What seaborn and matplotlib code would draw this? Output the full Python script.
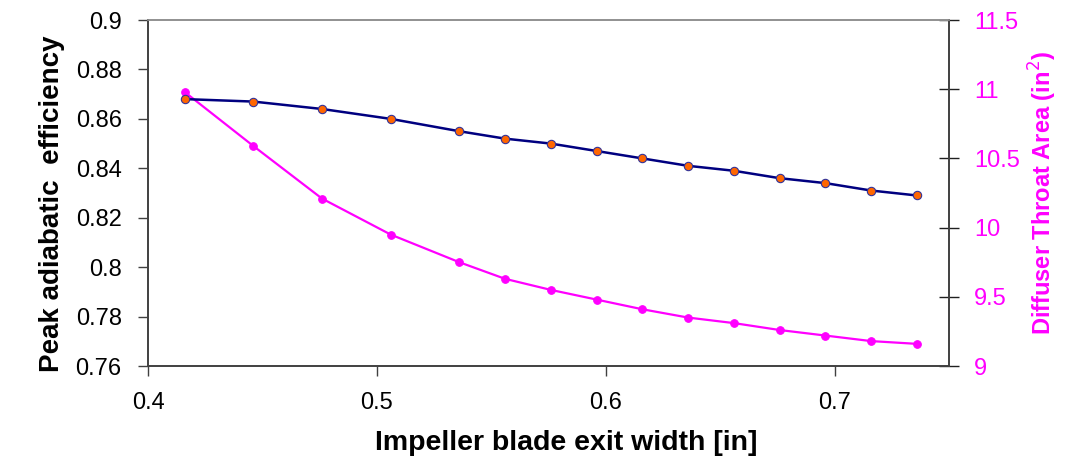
import matplotlib
matplotlib.use("Agg")
import matplotlib.pyplot as plt
from matplotlib.ticker import FormatStrFormatter
import seaborn as sns
import pandas as pd

# blade exit width [in]
width_in = [0.416, 0.446, 0.476, 0.506, 0.536, 0.556, 0.576, 0.596,
            0.616, 0.636, 0.656, 0.676, 0.696, 0.716, 0.736]
# peak adiabatic efficiency
efficiency = [0.868, 0.867, 0.864, 0.860, 0.855, 0.852, 0.850, 0.847,
              0.844, 0.841, 0.839, 0.836, 0.834, 0.831, 0.829]
# diffuser throat area [in^2]
throat_area = [10.98, 10.59, 10.21, 9.95, 9.75, 9.63, 9.55, 9.48,
               9.41, 9.35, 9.31, 9.26, 9.22, 9.18, 9.16]

df = pd.DataFrame({"width": width_in, "eff": efficiency, "area": throat_area})

sns.set_style("ticks")
plt.rcParams['font.family'] = ['Liberation Sans', 'DejaVu Sans']

fig = plt.figure(figsize=(10.68, 4.59), dpi=100)
ax = fig.add_axes([0.1386, 0.2026, 0.75, 0.7538])
ax2 = ax.twinx()

sns.lineplot(data=df, x="width", y="area", ax=ax2, color="#FF00FF", lw=1.6,
             marker="o", markersize=5.5, markerfacecolor="#FF00FF",
             markeredgecolor="#FF00FF", zorder=2)
sns.lineplot(data=df, x="width", y="eff", ax=ax, color="#000080", lw=1.8,
             marker="o", markersize=6, markerfacecolor="#FF6600",
             markeredgecolor="#333399", markeredgewidth=0.8, zorder=3)

ax.set_zorder(ax2.get_zorder() + 1)
ax.patch.set_visible(False)

ax.set_xlim(0.4, 0.75)
ax.set_xticks([0.4, 0.5, 0.6, 0.7])
ax.set_ylim(0.76, 0.9)
ax.set_yticks([0.76, 0.78, 0.8, 0.82, 0.84, 0.86, 0.88, 0.9])
ax.yaxis.set_major_formatter(FormatStrFormatter('%g'))
ax.xaxis.set_major_formatter(FormatStrFormatter('%g'))
ax2.set_ylim(9, 11.5)
ax2.set_yticks([9, 9.5, 10, 10.5, 11, 11.5])
ax2.yaxis.set_major_formatter(FormatStrFormatter('%g'))

ax.set_xlabel("Impeller blade exit width [in]", fontsize=20.5, fontweight="bold",
              color="black")
ax.xaxis.set_label_coords(0.5216, -0.184)
ax.set_ylabel("Peak adiabatic  efficiency", fontsize=20, fontweight="bold",
              color="black")
ax.yaxis.set_label_coords(-0.104, 0.47)
ax2.set_ylabel("Diffuser Throat Area (in$^2$)", fontsize=17, fontweight="bold",
               color="#FF00FF")
ax2.yaxis.set_label_coords(1.097, 0.50)

ax.tick_params(axis="both", labelsize=17, length=7, width=1, color="#404040",
               direction="out", labelcolor="black", pad=12)
ax.tick_params(axis="x", pad=12)
ax2.tick_params(axis="y", labelsize=17, length=14, width=1, color="#202020",
                direction="inout", labelcolor="#FF00FF", pad=11)

for a in (ax, ax2):
    for s in a.spines.values():
        s.set_color("#404040")
        s.set_linewidth(1.2)
    a.spines["top"].set_color("#909090")

fig.savefig("out.png", dpi=100)
